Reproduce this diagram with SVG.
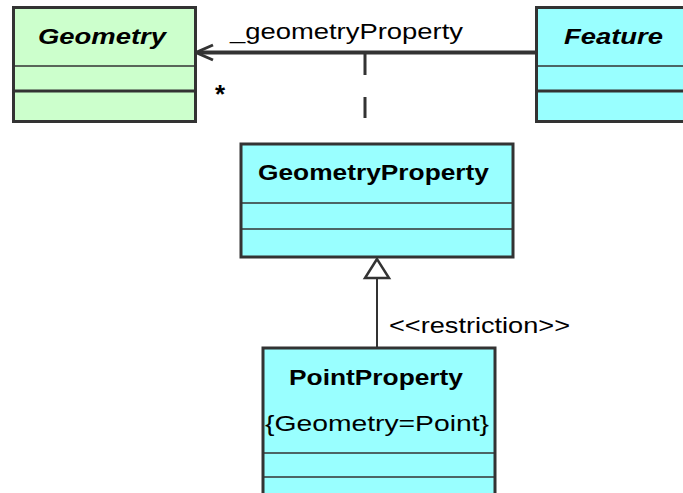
<svg xmlns="http://www.w3.org/2000/svg" width="683" height="493" viewBox="0 0 683 493">
<style>
.box{stroke:#333;stroke-width:3}
.green{fill:#ccffcc}
.cyan{fill:#99ffff}
.div1{stroke:#333;stroke-width:1.5}
.div2{stroke:#333;stroke-width:3}
.t{font-family:"Liberation Sans",Arial,sans-serif;font-size:22px;fill:#000}
.ti{font-weight:bold;font-style:italic}
.tb{font-weight:bold}
.conn{stroke:#333;fill:none}
</style>
<rect width="683" height="493" fill="#fff"/>
<g id="connectors">
<line class="conn" x1="198" y1="52.5" x2="537" y2="52.5" stroke-width="4"/>
<polyline class="conn" points="213,45 196,52.5 213,60" stroke-width="3"/>
<line class="conn" x1="365" y1="54" x2="365" y2="120" stroke-width="3" stroke-dasharray="21,22"/>
<line class="conn" x1="377" y1="278" x2="377" y2="348" stroke-width="2"/>
<polygon points="377,259 365,278 389,278" fill="#fff" stroke="#333" stroke-width="2.5"/>
<text class="t" x="230" y="39" textLength="233" lengthAdjust="spacingAndGlyphs">_geometryProperty</text>
<text class="t tb" x="215" y="103" style="font-size:26px">*</text>
<text class="t" x="389" y="333" textLength="181" lengthAdjust="spacingAndGlyphs">&lt;&lt;restriction&gt;&gt;</text>
</g>
<g id="geometry">
<rect class="box green" x="13.5" y="7.5" width="182" height="114"/>
<line class="div1" x1="13.5" y1="66" x2="195.5" y2="66"/>
<line class="div2" x1="13.5" y1="91" x2="195.5" y2="91"/>
<text class="t ti" x="38" y="44" textLength="128" lengthAdjust="spacingAndGlyphs">Geometry</text>
</g>
<g id="feature">
<rect class="box cyan" x="536.5" y="7.5" width="160" height="114"/>
<line class="div1" x1="536.5" y1="66" x2="696.5" y2="66"/>
<line class="div2" x1="536.5" y1="91" x2="696.5" y2="91"/>
<text class="t ti" x="564" y="44" textLength="99" lengthAdjust="spacingAndGlyphs">Feature</text>
</g>
<g id="geometryproperty">
<rect class="box cyan" x="241" y="144" width="272" height="113" stroke-width="2"/>
<line class="div1" x1="241" y1="203" x2="513" y2="203"/>
<line class="div1" x1="241" y1="229" x2="513" y2="229"/>
<text class="t tb" x="258" y="180" textLength="231" lengthAdjust="spacingAndGlyphs">GeometryProperty</text>
</g>
<g id="pointproperty">
<rect class="box cyan" x="263" y="348" width="232" height="160" stroke-width="2"/>
<line class="div1" x1="263" y1="453" x2="495" y2="453"/>
<line class="div1" x1="263" y1="477" x2="495" y2="477"/>
<text class="t tb" x="289" y="385" textLength="174" lengthAdjust="spacingAndGlyphs">PointProperty</text>
<text class="t" x="265" y="431" textLength="224" lengthAdjust="spacingAndGlyphs">{Geometry=Point}</text>
</g>
</svg>
